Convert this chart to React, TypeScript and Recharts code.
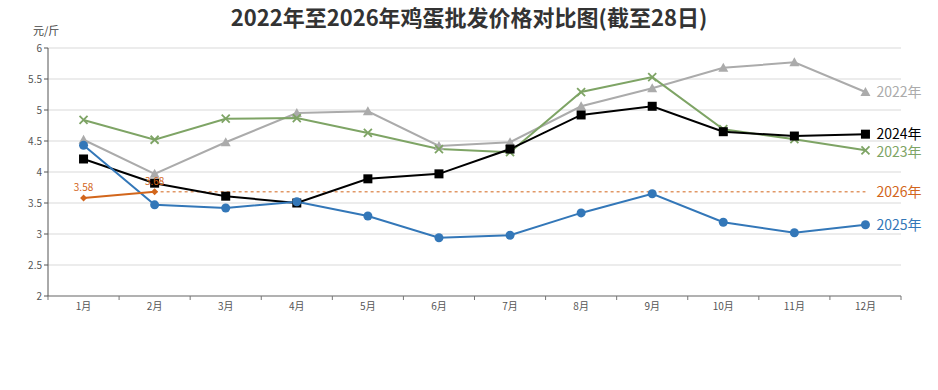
import React from "react";
import {
  LineChart,
  Line,
  XAxis,
  YAxis,
  CartesianGrid,
  ReferenceLine,
  LabelList,
} from "recharts";

const MONTHS = [1, 2, 3, 4, 5, 6, 7, 8, 9, 10, 11, 12];
const Y2022 = [4.52, 3.97, 4.48, 4.95, 4.98, 4.42, 4.48, 5.06, 5.35, 5.68, 5.77, 5.29];
const Y2023 = [4.84, 4.52, 4.86, 4.87, 4.63, 4.37, 4.32, 5.29, 5.53, 4.69, 4.53, 4.35];
const Y2024 = [4.21, 3.82, 3.61, 3.5, 3.89, 3.97, 4.37, 4.92, 5.06, 4.65, 4.58, 4.61];
const Y2025 = [4.43, 3.47, 3.42, 3.52, 3.29, 2.94, 2.98, 3.34, 3.65, 3.19, 3.02, 3.15];
const Y2026 = [3.58, 3.68];
const Y_TICKS = [2, 2.5, 3, 3.5, 4, 4.5, 5, 5.5, 6];
const X_TICKS = [0.5, 1.5, 2.5, 3.5, 4.5, 5.5, 6.5, 7.5, 8.5, 9.5, 10.5, 11.5, 12.5];

const data = MONTHS.map((m, i) => ({
  month: m,
  y2022: Y2022[i],
  y2023: Y2023[i],
  y2024: Y2024[i],
  y2025: Y2025[i],
  y2026: i < Y2026.length ? Y2026[i] : null,
}));

const W = 938;
const H = 390;
const M = { top: 48, right: 37, bottom: 64, left: 18 };
const Y_W = 30;
const HALF_BAND = (W - M.left - M.right - Y_W) / 12 / 2;
const FONT = '"Noto Sans CJK SC", "Noto Sans", sans-serif';

const C22 = "#ababab";
const C23 = "#7ea465";
const C24 = "#000000";
const C25 = "#3377b8";
const C26 = "#d2661c";

const MonthTick = (props: any) => {
  const { x, y, payload } = props;
  if (payload.value > 12) return null;
  return (
    <text x={x + HALF_BAND} y={y} dy="0.75em" textAnchor="middle" fontSize={10} fill="#555" fontFamily={FONT}>
      {payload.value + 0.5}月
    </text>
  );
};

const Triangle = (props: any) => {
  const { cx, cy } = props;
  if (cx == null || cy == null) return null;
  return <path d={`M${cx},${cy - 5} L${cx + 5},${cy + 4} L${cx - 5},${cy + 4} Z`} fill={C22} />;
};
const Cross = (props: any) => {
  const { cx, cy } = props;
  if (cx == null || cy == null) return null;
  return (
    <path d={`M${cx - 4},${cy - 4} L${cx + 4},${cy + 4} M${cx + 4},${cy - 4} L${cx - 4},${cy + 4}`} stroke={C23} strokeWidth={1.8} />
  );
};
const Square = (props: any) => {
  const { cx, cy } = props;
  if (cx == null || cy == null) return null;
  return <rect x={cx - 4.5} y={cy - 4.5} width={9} height={9} fill={C24} />;
};
const Circle = (props: any) => {
  const { cx, cy } = props;
  if (cx == null || cy == null) return null;
  return <circle cx={cx} cy={cy} r={4.5} fill={C25} />;
};
const Diamond = (props: any) => {
  const { cx, cy } = props;
  if (cx == null || cy == null) return null;
  return <path d={`M${cx},${cy - 3.5} L${cx + 3.5},${cy} L${cx},${cy + 3.5} L${cx - 3.5},${cy} Z`} fill={C26} />;
};

const endLabel = (text: string, color: string, shift = 0) => (props: any) => {
  const { x, y, index } = props;
  if (index !== MONTHS.length - 1) return null;
  return (
    <text x={x + 11} y={y + shift} dy="0.35em" fontSize={14} fill={color} fontFamily={FONT}>
      {text}
    </text>
  );
};

export default function App() {
  return (
    <div style={{ position: "absolute", left: 0, top: 0, width: W, height: H, background: "#fff", fontFamily: FONT }}>
      <div
        style={{
          position: "absolute",
          top: 0,
          left: 0,
          width: W,
          textAlign: "center",
          fontSize: 22,
          fontWeight: 700,
          color: "#333",
        }}
      >
        2022年至2026年鸡蛋批发价格对比图(截至28日)
      </div>
      <div style={{ position: "absolute", top: 22, left: 33, fontSize: 11, color: "#444" }}>元/斤</div>
      <LineChart width={W} height={H} data={data} margin={M}>
        <CartesianGrid vertical={false} stroke="#d9d9d9" />
        <XAxis
          dataKey="month"
          type="number"
          domain={[0.5, 12.5]}
          ticks={X_TICKS}
          tick={<MonthTick />}
          tickSize={4}
          interval={0}
          height={30}
          stroke="#777"
        />
        <YAxis
          domain={[2, 6]}
          ticks={Y_TICKS}
          width={Y_W}
          tickSize={4}
          stroke="#555"
          tick={{ fontSize: 10, fill: "#555", fontFamily: FONT }}
        />
        <ReferenceLine
          segment={[
            { x: 2, y: Y2026[Y2026.length - 1] },
            { x: 12, y: Y2026[Y2026.length - 1] },
          ]}
          stroke={C26}
          strokeDasharray="3 3"
          strokeWidth={1}
          label={{ value: "2026年", position: "right", fill: C26, fontSize: 14, fontFamily: FONT, offset: 11 }}
        />
        <Line dataKey="y2022" stroke={C22} strokeWidth={2} dot={<Triangle />} isAnimationActive={false}>
          <LabelList dataKey="y2022" content={endLabel("2022年", C22)} />
        </Line>
        <Line dataKey="y2023" stroke={C23} strokeWidth={2} dot={<Cross />} isAnimationActive={false}>
          <LabelList dataKey="y2023" content={endLabel("2023年", C23, 2)} />
        </Line>
        <Line dataKey="y2024" stroke={C24} strokeWidth={2} dot={<Square />} isAnimationActive={false}>
          <LabelList dataKey="y2024" content={endLabel("2024年", C24)} />
        </Line>
        <Line dataKey="y2025" stroke={C25} strokeWidth={2} dot={<Circle />} isAnimationActive={false}>
          <LabelList dataKey="y2025" content={endLabel("2025年", C25)} />
        </Line>
        <Line dataKey="y2026" stroke={C26} strokeWidth={2} dot={<Diamond />} isAnimationActive={false} connectNulls={false}>
          <LabelList dataKey="y2026" position="top" offset={7} fill={C26} fontSize={10} fontFamily={FONT} />
        </Line>
      </LineChart>
    </div>
  );
}
